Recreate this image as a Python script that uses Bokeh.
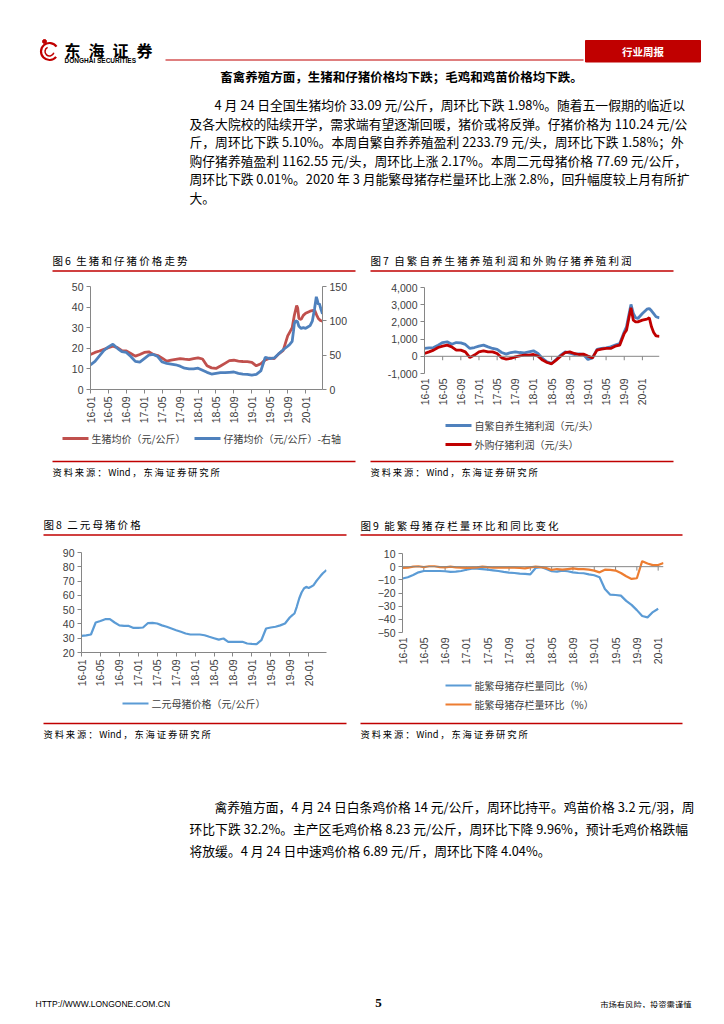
import math
import pandas as pd
from bokeh.plotting import figure
from bokeh.layouts import column, row
from bokeh.models import (Range1d, LinearAxis, FixedTicker, Span, Spacer, NumeralTickFormatter)
from bokeh.core.properties import value
from bokeh.embed import file_html
from bokeh.resources import INLINE

CJK = "Noto Sans CJK SC"
LAT = "Liberation Sans"
RED = "#C00000"
AXC = "#868686"
LBC = "#404040"

# ------------------------------------------------------------------ data
x_tick_labels = ["16-01", "16-05", "16-09", "17-01", "17-05", "17-09", "18-01",
                 "18-05", "18-09", "19-01", "19-05", "19-09", "20-01"]
x_tick_dates = ["2016-01-01", "2016-05-01", "2016-09-01", "2017-01-01", "2017-05-01",
                "2017-09-01", "2018-01-01", "2018-05-01", "2018-09-01", "2019-01-01",
                "2019-05-01", "2019-09-01", "2020-01-01"]
last_date = "2020-04-24"

monthly_dates = list(pd.date_range("2016-01-01", "2019-09-01", freq="MS").strftime("%Y-%m-%d"))

# Fig 6: live hog price (left axis) and piglet price (right axis)
hog_tail_dates = ["2019-09-16", "2019-10-01", "2019-10-16", "2019-11-01", "2019-11-08",
                  "2019-11-16", "2019-12-01", "2019-12-16", "2020-01-01", "2020-02-01",
                  "2020-03-01", "2020-03-16", "2020-03-27", "2020-04-10", "2020-04-24"]
hog_price = [17.0, 18.0, 18.7, 19.5, 20.3, 21.0, 20.3, 18.8, 18.7, 17.5, 16.2, 17.0, 18.0,
             18.3, 17.0, 16.5, 15.2, 13.8, 14.2, 14.6, 15.0, 14.7, 14.5, 15.0, 15.4, 14.8,
             11.5, 10.5, 10.2, 11.4, 12.7, 14.0, 14.2, 13.8, 13.6, 13.5, 13.2, 11.5, 12.5,
             14.4, 15.2, 15.0, 17.3, 19.0, 26.0,
             28.0, 30.0, 36.0, 40.8, 39.5, 34.5, 34.0, 36.0, 37.0, 38.0, 38.6, 36.0, 34.5,
             33.5, 33.1]
piglet_tail_dates = ["2019-09-16", "2019-10-01", "2019-10-10", "2019-10-16", "2019-10-25",
                     "2019-11-06", "2019-11-16", "2019-12-01", "2019-12-16", "2020-01-01",
                     "2020-01-16", "2020-02-01", "2020-02-16", "2020-03-01", "2020-03-13",
                     "2020-03-20", "2020-03-27", "2020-04-03", "2020-04-12", "2020-04-24"]
piglet_price = [36, 41, 49, 57, 62, 66, 60, 55, 54, 48, 41, 40, 45, 50, 51, 48, 40, 38, 37,
                36, 34, 31, 30, 30, 31, 28, 25, 22.5, 23.5, 24.5, 24.5, 25, 25.5, 23.5, 22.5,
                22, 21, 22, 27, 47, 45, 46, 52, 58, 63,
                66, 70, 85, 96, 100, 99, 92, 89, 90, 89, 91, 93, 100, 118, 135, 130, 124,
                125, 118, 110.2]

# Fig 7: self-bred profit and purchased-piglet profit (yuan/head)
profit_tail_dates = ["2019-09-16", "2019-10-01", "2019-10-16", "2019-11-01", "2019-11-16",
                     "2019-12-01", "2020-01-01", "2020-02-01", "2020-02-16", "2020-03-01",
                     "2020-03-16", "2020-04-01", "2020-04-24"]
self_bred_profit = [455, 490, 510, 650, 800, 840, 700, 800, 780, 690, 455, 510, 590, 650,
                    550, 455, 400, 220, 125, 220, 260, 220, 200, 260, 320, 165, -125, -320,
                    -415, -185, 70, 260, 185, 105, 145, 105, -185, -90, 400, 455, 490, 550,
                    650, 745, 1425,
                    1715, 2390, 3015, 2490, 2240, 2200, 2490, 2740, 2780, 2645, 2480, 2300,
                    2234]
purchased_profit = [165, 260, 360, 510, 590, 650, 550, 360, 360, 260, -70, 70, 260, 320,
                    260, 260, 165, -90, -165, -125, -30, 30, 70, 70, 105, 10, -220, -360,
                    -435, -220, 10, 220, 260, 165, 105, 125, 10, -90, 360, 415, 455, 455,
                    590, 650, 1330,
                    1520, 2200, 2820, 2100, 2000, 2000, 2100, 2160, 2240, 1715, 1385, 1190,
                    1163]

# Fig 8: binary sow price (yuan/kg)
sow_tail_dates = ["2019-09-16", "2019-10-01", "2019-10-16", "2019-11-01", "2019-11-16",
                  "2019-12-01", "2019-12-16", "2020-01-01", "2020-01-16", "2020-02-01",
                  "2020-02-16", "2020-03-01", "2020-03-16", "2020-04-01", "2020-04-24"]
sow_price = [31.7, 32.0, 32.6, 41.0, 42.0, 43.3, 43.3, 41.0, 39.0, 38.6, 38.6, 37.2, 37.2,
             37.5, 40.5, 40.7, 40.3, 39.0, 38.0, 36.8, 35.6, 34.5, 33.3, 32.6, 32.6, 32.6,
             32.1, 31.0, 30.0, 29.0, 29.8, 27.5, 27.5, 27.5, 27.5, 26.3, 26.0, 25.8, 28.6,
             36.8, 37.5, 38.0, 39.0, 40.3, 44.5,
             46.0, 47.3, 52.0, 57.8, 62.0, 64.8, 66.0, 65.2, 66.0, 67.0, 69.5, 71.5, 73.5,
             75.5, 77.7]

# Fig 9: breeding-sow inventory change (%), monthly categories from 16-01
sow_stock_yoy = [-9, -8, -6.3, -4.3, -3.3, -3.3, -3.3, -3.3, -3.5, -4, -3.8, -3.3, -2.3,
                 -1.5, -1.5, -1.8, -2.3, -2.8, -3.3, -4, -4.5, -4.8, -5.3, -5.5, -5.8, -1,
                 -0.3, -1.8, -3.5, -3.8, -3, -3.5, -4.3, -4.8, -5, -5.8, -6.5, -8, -17,
                 -21.3, -21.5, -22, -26, -29, -33, -37.5, -38.5, -34.5, -32]
sow_stock_mom = [-1, -0.8, 0, 0.3, -0.3, 0.3, 0.3, -0.3, -0.5, 0, -0.5, -0.8, -1, -0.8,
                 -0.5, 0, -0.3, -0.8, -0.8, -0.8, -0.8, -0.8, -1, -1.3, -0.5, 0, -0.3, -1,
                 -2.5, -1.8, -2.3, -1.8, -1.3, -1.8, -1.8, -2.3, -3, -4.3, -2.3, -2.5, -3,
                 -4.8, -7.3, -9.3, -8.8, 4.2, 2.4, 1.2, 1.2, 2.8]


def mpos(dates):
    out = []
    for t in pd.to_datetime(dates):
        out.append((t.year - 2016) * 12 + t.month - 1 + (t.day - 1) / t.days_in_month)
    return out


XT = mpos(x_tick_dates)
XEND = mpos([last_date])[0]
x_hog = mpos(monthly_dates + hog_tail_dates)
x_piglet = mpos(monthly_dates + piglet_tail_dates)
x_profit = mpos(monthly_dates + profit_tail_dates)
x_sow = mpos(monthly_dates + sow_tail_dates)
x_yoy = list(range(len(sow_stock_yoy)))
x_mom = list(range(len(sow_stock_mom)))
XT9 = [4 * i for i in range(len(x_tick_labels))]


# ------------------------------------------------------------------ helpers
def no_align(p):
    if "frame_align" in p.properties():
        p.frame_align = False


def canvas(x0, w, y0, h):
    p = figure(width=w, height=h, x_range=Range1d(x0, x0 + w), y_range=Range1d(y0 + h, y0),
               output_backend="svg", toolbar_location=None, min_border=0,
               x_axis_location=None, y_axis_location=None)
    no_align(p)
    p.grid.visible = False
    p.outline_line_color = None
    return p


def txt(p, x, y, s, size, font=CJK, color="#000000", align="left", style="normal"):
    p.text(x=[x], y=[y], text=[s], text_font=value(font), text_font_size=size,
           text_color=color, text_align=align, text_baseline="middle",
           text_font_style=style)


def rule(p, x0, x1, y, w=1.6, color=RED):
    p.segment(x0=[x0], y0=[y], x1=[x1], y1=[y], line_color=color, line_width=w)


def leg(p, x, y, color, lw, label):
    p.segment(x0=[x], y0=[y], x1=[x + 26], y1=[y], line_color=color, line_width=lw)
    txt(p, x + 29, y, label, "10px", color=LBC)


def sp(s):
    return "\u2009".join(s)


def src_text():
    return "\u2009".join(list("资料来源：") + ["Wind"] + list("，东海证券研究所"))


def style_axis(ax, size="10.5px"):
    ax.axis_line_color = AXC
    ax.major_tick_line_color = AXC
    ax.minor_tick_line_color = None
    ax.major_tick_out = 4
    ax.major_tick_in = 0
    ax.major_label_text_font = LAT
    ax.major_label_text_font_size = size
    ax.major_label_text_color = LBC
    ax.major_label_standoff = 3


def chart(w, h, lb, rb, tb, bb, xr, yr, yticks, xticks):
    p = figure(width=w, height=h, x_range=Range1d(*xr), y_range=Range1d(*yr),
               output_backend="svg", toolbar_location=None,
               min_border_left=lb, min_border_right=rb, min_border_top=tb,
               min_border_bottom=bb)
    no_align(p)
    p.grid.visible = False
    p.outline_line_color = None
    xa = p.xaxis[0]
    xa.ticker = FixedTicker(ticks=xticks)
    xa.major_label_overrides = {t: lab for t, lab in zip(xticks, x_tick_labels)}
    xa.major_label_orientation = math.pi / 2
    style_axis(xa)
    ya = p.yaxis[0]
    ya.ticker = FixedTicker(ticks=yticks)
    style_axis(ya)
    return p


def floating_x_axis(p, tick_len):
    xa = p.xaxis[0]
    xa.axis_line_color = None
    xa.major_tick_line_color = None
    xa.major_tick_out = 0
    xa.major_label_standoff = 5
    p.add_layout(Span(location=0, dimension="width", line_color=AXC, line_width=1))
    ticks = list(xa.ticker.ticks)
    p.segment(x0=ticks, y0=[0] * len(ticks), x1=ticks, y1=[-tick_len] * len(ticks),
              line_color=AXC, line_width=1)


# ------------------------------------------------------------------ section A (0..278)
pa = canvas(0, 708, 0, 278)
pa.arc(x=[49], y=[51], radius=8.5, start_angle=0.6, end_angle=5.6, line_color=RED, line_width=2.2)
pa.arc(x=[49], y=[51], radius=4.5, start_angle=2.0, end_angle=6.0, line_color=RED, line_width=1.5)
pa.scatter(x=[44], y=[41], size=4, color=RED, marker="circle")
txt(pa, 64, 49, "东\u2002海\u2002证\u2002券", "16px", style="bold")
txt(pa, 64, 59.5, "DONGHAI SECURITIES", "6.5px", font=LAT, style="bold")
rule(pa, 165, 583, 59.5, w=1.2)
pa.quad(left=[585], right=[700], top=[40], bottom=[61.5], fill_color=RED, line_color=RED)
txt(pa, 642.5, 51, "行业周报", "10.5px", color="white", align="center", style="bold")
txt(pa, 401, 76, "畜禽养殖方面，生猪和仔猪价格均下跌；毛鸡和鸡苗价格均下跌。", "12.5px",
    align="center", style="bold")

para1 = ["4 月 24 日全国生猪均价 33.09 元/公斤，周环比下跌 1.98%。随着五一假期的临近以",
         "及各大院校的陆续开学，需求端有望逐渐回暖，猪价或将反弹。仔猪价格为 110.24 元/公",
         "斤，周环比下跌 5.10%。本周自繁自养养殖盈利 2233.79 元/头，周环比下跌 1.58%；外",
         "购仔猪养殖盈利 1162.55 元/头，周环比上涨 2.17%。本周二元母猪价格 77.69 元/公斤，",
         "周环比下跌 0.01%。2020 年 3 月能繁母猪存栏量环比上涨 2.8%，回升幅度较上月有所扩",
         "大。"]
for i, line in enumerate(para1):
    txt(pa, 214 if i == 0 else 189, 104 + 18.6 * i, line, "12.8px")

txt(pa, 52, 260, sp("图6") + "\u2002" + sp("生猪和仔猪价格走势"), "10.5px")
txt(pa, 370, 260, sp("图7") + "\u2002" + sp("自繁自养生猪养殖利润和外购仔猪养殖利润"), "10.5px")
rule(pa, 52, 355, 270.5)
rule(pa, 370, 673, 270.5)

# ------------------------------------------------------------------ section B (278..452)
p6 = chart(320, 150, 50, 38, 8, 39, (0, XEND), (0, 50), [0, 10, 20, 30, 40, 50], XT)
p6.extra_y_ranges = {"r": Range1d(0, 150)}
ra = LinearAxis(y_range_name="r", ticker=FixedTicker(ticks=[0, 50, 100, 150]))
style_axis(ra)
p6.add_layout(ra, "right")
p6.line(x_hog, hog_price, line_color="#C0504D", line_width=2.8)
p6.line(x_piglet, piglet_price, line_color="#4F81BD", line_width=2.8, y_range_name="r")
c6 = canvas(40, 320, 428, 24)
leg(c6, 62, 438, "#C0504D", 2.8, "生猪均价（元/公斤）")
leg(c6, 194, 438, "#4F81BD", 2.8, "仔猪均价（元/公斤）-右轴")

p7 = chart(348, 136, 64, 49, 9, 41, (0, XEND), (-1000, 4000),
           [-1000, 0, 1000, 2000, 3000, 4000], XT)
p7.yaxis[0].formatter = NumeralTickFormatter(format="0,0")
floating_x_axis(p7, 230)
p7.line(x_profit, self_bred_profit, line_color="#4F81BD", line_width=2.8)
p7.line(x_profit, purchased_profit, line_color="#C00000", line_width=2.8)
c7 = canvas(360, 348, 414, 38)
leg(c7, 445, 425, "#4F81BD", 2.8, "自繁自养生猪利润（元/头）")
leg(c7, 445, 444, "#C00000", 2.8, "外购仔猪利润（元/头）")

# ------------------------------------------------------------------ section C (452..540)
pc = canvas(0, 708, 452, 88)
rule(pc, 52, 355, 461)
rule(pc, 370, 673, 461)
txt(pc, 52, 471, src_text(), "9.3px")
txt(pc, 370, 471, src_text(), "9.3px")
txt(pc, 43, 524, sp("图8") + "\u2002" + sp("二元母猪价格"), "10.5px")
txt(pc, 360, 525, sp("图9") + "\u2002" + sp("能繁母猪存栏量环比和同比变化"), "10.5px")
rule(pc, 43, 346, 534.5)
rule(pc, 360, 682, 534.5)

# ------------------------------------------------------------------ section D (540..715)
p8 = chart(360, 152, 81, 34, 12, 40, (0, XEND), (20, 90), [20, 30, 40, 50, 60, 70, 80, 90], XT)
p8.line(x_sow, sow_price, line_color="#5B9BD5", line_width=2.2)
c8 = canvas(0, 360, 692, 23)
leg(c8, 122, 703, "#5B9BD5", 2.2, "二元母猪价格（元/公斤）")

p9 = chart(348, 134, 42, 45, 13, 42, (0, len(sow_stock_mom) - 1), (-50, 10),
           [-50, -40, -30, -20, -10, 0, 10], XT9)
floating_x_axis(p9, 3)
p9.line(x_yoy, sow_stock_yoy, line_color="#5B9BD5", line_width=2.2)
p9.line(x_mom, sow_stock_mom, line_color="#ED7D31", line_width=2.2)
c9 = canvas(360, 348, 674, 41)
leg(c9, 445, 685, "#5B9BD5", 2.2, "能繁母猪存栏量同比（%）")
leg(c9, 445, 704, "#ED7D31", 2.2, "能繁母猪存栏量环比（%）")

# ------------------------------------------------------------------ section E (715..1008)
pe = canvas(0, 708, 715, 293)
rule(pe, 43, 346, 723)
rule(pe, 360, 682, 723)
txt(pe, 43, 733, src_text(), "9.3px")
txt(pe, 360, 733, src_text(), "9.3px")
para2 = ["禽养殖方面，4 月 24 日白条鸡价格 14 元/公斤，周环比持平。鸡苗价格 3.2 元/羽，周",
         "环比下跌 32.2%。主产区毛鸡价格 8.23 元/公斤，周环比下降 9.96%，预计毛鸡价格跌幅",
         "将放缓。4 月 24 日中速鸡价格 6.89 元/斤，周环比下降 4.04%。"]
for i, line in enumerate(para2):
    txt(pe, 214 if i == 0 else 189, 806 + 22 * i, line, "12.8px")
txt(pe, 35, 1003, "HTTP://WWW.LONGONE.COM.CN", "8.5px", font=LAT)
txt(pe, 378, 1002, "5", "13px", font="Liberation Serif", style="bold", align="center")
txt(pe, 691, 1003, "市场有风险，投资需谨慎", "8.3px", align="right")

page = column(
    pa,
    row(Spacer(width=40, height=174), column(p6, c6), column(p7, c7)),
    pc,
    row(column(p8, c8), column(p9, c9)),
    pe,
)

open("out.html", "w").write(file_html(page, INLINE))
